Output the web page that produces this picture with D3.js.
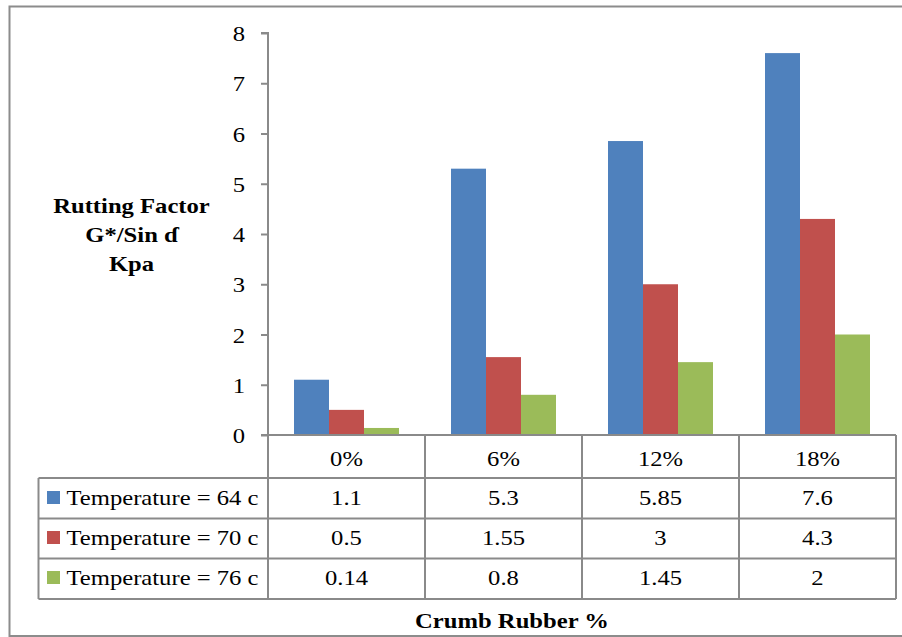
<!DOCTYPE html>
<html><head><meta charset="utf-8">
<script src="https://cdn.jsdelivr.net/npm/d3@7"></script>
<style>body{margin:0;background:#fff}svg{display:block}</style>
</head><body><svg id="c" width="902" height="637"></svg>
<script>
const categories = ["0%", "6%", "12%", "18%"];
const seriesNames = ["Temperature = 64 c", "Temperature = 70 c", "Temperature = 76 c"];
const temp64 = [1.1, 5.3, 5.85, 7.6];
const temp70 = [0.5, 1.55, 3, 4.3];
const temp76 = [0.14, 0.8, 1.45, 2];
const yTicks = [0, 1, 2, 3, 4, 5, 6, 7, 8];
const colors = ["#4F81BD", "#C0504D", "#9BBB59"];
const yLabelLines = ["Rutting Factor", "G*/Sin ɗ", "Kpa"];
const xTitle = "Crumb Rubber %";

const seriesVals = [temp64, temp70, temp76];
const svg = d3.select("#c");
const SX = 1.12, FS = 22, gridC = "#8a8a8a";
const FONT = "Liberation Serif";

function label(g, s, x, y, anchor, bold) {
  return g.append("text").attr("transform", `translate(${x},${y}) scale(${SX},1)`)
    .attr("text-anchor", anchor).style("font-size", FS + "px").style("font-family", FONT)
    .style("fill", "#000")
    .style("font-weight", bold ? "bold" : "normal").text(s);
}

// outer border
svg.append("path").attr("d", "M905,6.5 H9.5 V636 H905").attr("fill", "none")
  .attr("stroke", "#8c8c8c").attr("stroke-width", 2);

const plotL = 268, plotR = 896, y0 = 435, yTop = 33;
const x0 = d3.scaleBand().domain(categories).range([plotL, plotR]).padding(0);
const x1 = d3.scaleBand().domain(seriesNames).range([0, x0.bandwidth()]).paddingInner(0).paddingOuter(0.743);
const y = d3.scaleLinear().domain([0, 8]).range([y0, yTop]);

// bars
seriesNames.forEach((s, si) => {
  svg.append("g").selectAll("rect").data(categories).join("rect")
    .attr("x", c => x0(c) + x1(s))
    .attr("y", (c, i) => y(seriesVals[si][i]))
    .attr("width", x1.bandwidth())
    .attr("height", (c, i) => y0 - y(seriesVals[si][i]))
    .attr("fill", colors[si]);
});

// y axis
const ax = svg.append("g").attr("transform", `translate(${plotL},0)`)
  .call(d3.axisLeft(y).tickValues(yTicks).tickSize(7).tickFormat(d3.format("d")));
ax.select(".domain").attr("stroke", gridC).attr("stroke-width", 2).attr("d", `M-7,${y(8)}H0V${y0}`);
ax.selectAll(".tick line").attr("stroke", gridC).attr("stroke-width", 2);
ax.selectAll(".tick text").remove();
yTicks.forEach(t => label(svg, String(t), 245, y(t) + 8, "end", false));

// y label
const yl = [213, 242, 271];
yLabelLines.forEach((s, i) => label(svg, s, 131.5, yl[i], "middle", true));

// data table
const rowTops = [435, 478, 518.5, 558.5, 599];
const tL = 38.5;
const lines = svg.append("g").attr("stroke", gridC).attr("stroke-width", 2).attr("fill", "none");
lines.append("line").attr("x1", plotL - 7).attr("x2", plotR).attr("y1", y0).attr("y2", y0);
rowTops.slice(1).forEach(ry => lines.append("line").attr("x1", tL).attr("x2", plotR).attr("y1", ry).attr("y2", ry));
lines.append("line").attr("x1", tL).attr("x2", tL).attr("y1", rowTops[1]).attr("y2", rowTops[4]);
categories.forEach(c => lines.append("line").attr("x1", x0(c)).attr("x2", x0(c)).attr("y1", y0).attr("y2", rowTops[4]));
lines.append("line").attr("x1", plotR).attr("x2", plotR).attr("y1", y0).attr("y2", rowTops[4]);

categories.forEach(c => label(svg, c, x0(c) + x0.bandwidth() / 2, 466, "middle", false));
seriesNames.forEach((s, si) => {
  const by = 505 + si * 40;
  svg.append("rect").attr("x", 47).attr("y", by - 14).attr("width", 13).attr("height", 13).attr("fill", colors[si]);
  label(svg, s, 66.5, by, "start", false);
  categories.forEach((c, i) => label(svg, String(seriesVals[si][i]), x0(c) + x0.bandwidth() / 2, by, "middle", false));
});

label(svg, xTitle, 512, 628, "middle", true);
</script></body></html>
